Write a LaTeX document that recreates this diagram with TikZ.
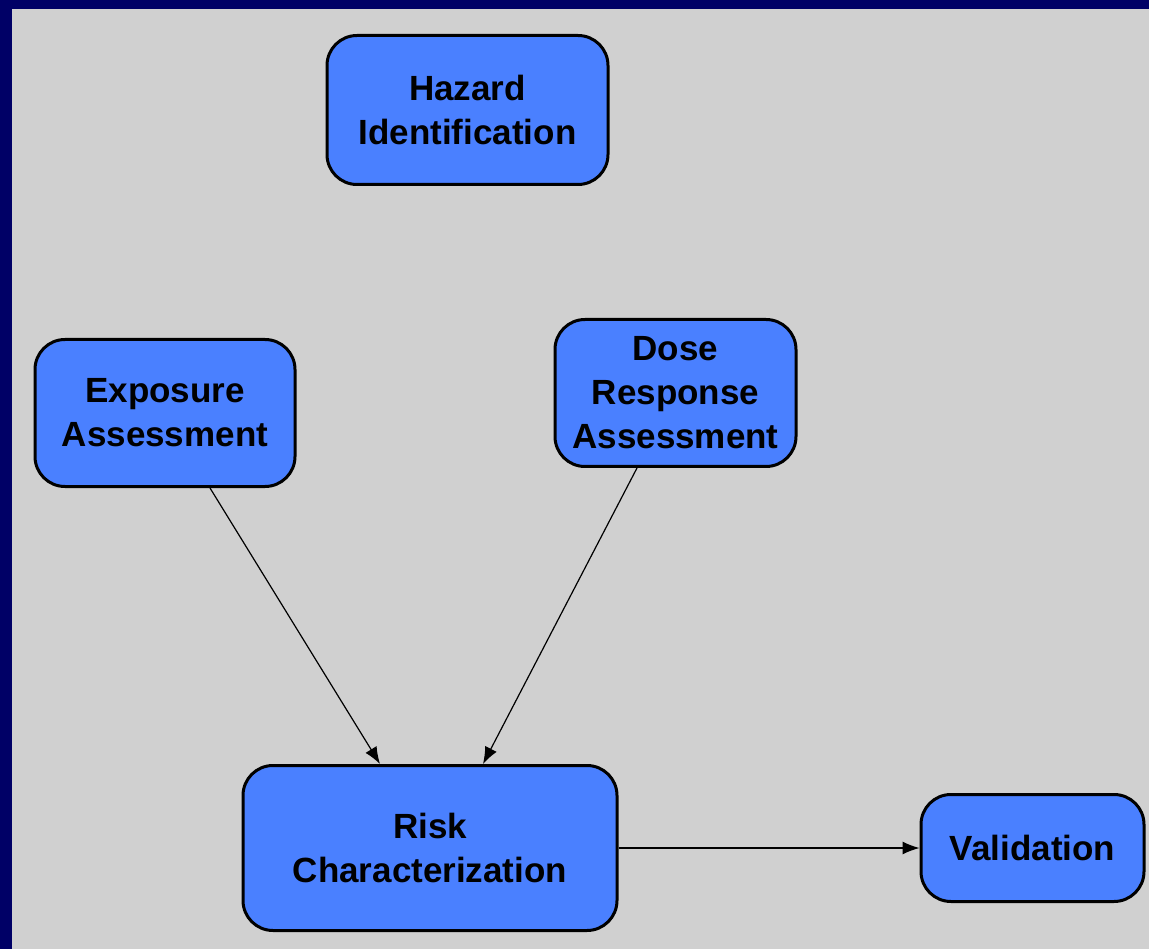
\documentclass[tikz,border=0pt]{standalone}
\usepackage{fontspec}
\setmainfont{Liberation Sans}
\usetikzlibrary{arrows.meta}
\definecolor{framenavy}{HTML}{000066}
\definecolor{paneGray}{HTML}{D0D0D0}
\definecolor{boxBlue}{HTML}{4A80FF}
\tikzset{
  stage/.style={draw=black, line width=3pt, fill=boxBlue, rounded corners=30pt,
    align=center, inner sep=2pt, font=\bfseries\fontsize{35}{44}\selectfont},
  flow/.style={-{Latex[length=17pt,width=13pt]}, line width=1.2pt}
}
\begin{document}
\begin{tikzpicture}[x=1pt, y=-1pt]
      \useasboundingbox (0,0) rectangle (1149,949);
      \fill[framenavy] (0,0) rectangle (1149,949);
      \fill[paneGray] (12,9) rectangle (1149,949);
      \node[stage, minimum width=281pt, minimum height=149pt] (hazard) at (467.5,110) {Hazard\\Identification};
      \node[stage, minimum width=260pt, minimum height=147pt] (expo) at (165,413) {Exposure\\Assessment};
      \node[stage, minimum width=241pt, minimum height=147pt] (dose) at (675.5,393) {Dose\\Response\\Assessment};
      \node[stage, minimum width=374pt, minimum height=165pt] (risk) at (430,848) {Risk\\Characterization};
      \node[stage, minimum width=223pt, minimum height=107pt] (valid) at (1032.5,848) {Validation};
      \path[flow] ([xshift=45pt]expo.south) edge ([xshift=-50pt]risk.north);
      \path[flow] ([xshift=-38.5pt]dose.south) edge ([xshift=53pt]risk.north);
      \path[flow] (risk.east) edge (valid.west);
    \end{tikzpicture}
\end{document}
